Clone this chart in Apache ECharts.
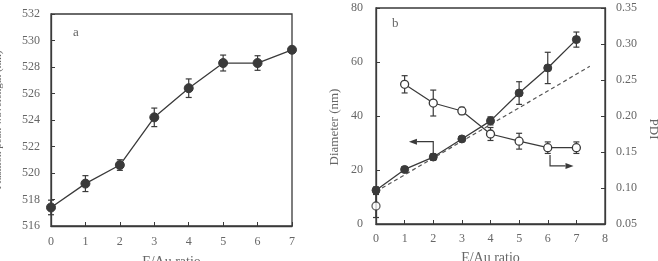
<!DOCTYPE html>
<html>
<head>
<meta charset="utf-8">
<script src="https://cdn.jsdelivr.net/npm/echarts@6/dist/echarts.min.js"></script>
<style>
  html, body { margin: 0; padding: 0; background: #fff; }
  #chart { width: 658px; height: 261px; }
</style>
</head>
<body>
<div id="chart"></div>
<script>
// Panel a: peak wavelength vs E/Au ratio
const ratioA = [0, 1, 2, 3, 4, 5, 6, 7];
const peakNm = [517.4, 519.2, 520.6, 524.2, 526.4, 528.3, 528.3, 529.3];
const peakErr = [0.55, 0.6, 0.4, 0.7, 0.7, 0.6, 0.55, 0.2];

// Panel b: diameter and PDI vs E/Au ratio
const ratioB = [0, 1, 2, 3, 4, 5, 6, 7];
const diameter = [12.5, 20.2, 24.8, 31.5, 38.2, 48.5, 57.8, 68.3];
const diameterErr = [1.2, 1.0, 1.2, 0.8, 1.5, 4.2, 5.8, 2.8];
const pdi = [0.075, 0.244, 0.218, 0.207, 0.175, 0.165, 0.156, 0.156];
const pdiErr = [0.016, 0.012, 0.018, 0.005, 0.009, 0.011, 0.008, 0.008];
const fitLine = [[0, 12], [7.47, 58.4]];
const arrowLeft = [[2.0, 26.3], [2.0, 30.5], [1.15, 30.5]];
const arrowRight = [[6.08, 25.6], [6.08, 21.5], [6.9, 21.5]];

const ink = '#3a3a3a';
const textGray = '#666';
const serif = 'Liberation Serif';

const chart = echarts.init(document.getElementById('chart'));

function pairs(xs, ys) {
    return xs.map((x, i) => [x, ys[i]]);
}
function bars(xs, ys, errs) {
    return xs.map((x, i) => [x, ys[i] - errs[i], ys[i] + errs[i]]);
}

// draws a vertical error bar with caps
function errorBar(params, api) {
    const lo = api.coord([api.value(0), api.value(1)]);
    const hi = api.coord([api.value(0), api.value(2)]);
    const w = 3;
    const style = { stroke: ink, lineWidth: 1.2, fill: 'none' };
    return {
        type: 'group',
        children: [
            { type: 'line', shape: { x1: lo[0], y1: lo[1], x2: hi[0], y2: hi[1] }, style },
            { type: 'line', shape: { x1: lo[0] - w, y1: lo[1], x2: lo[0] + w, y2: lo[1] }, style },
            { type: 'line', shape: { x1: hi[0] - w, y1: hi[1], x2: hi[0] + w, y2: hi[1] }, style }
        ]
    };
}

// arrow polyline: plain segments plus a filled head at the last point
function arrowPath(params, api) {
    const pts = params.context.pts || (params.context.pts = []);
    pts.push(api.coord([api.value(0), api.value(1)]));
    if (params.dataIndex !== params.dataInsideLength - 1) return null;
    const a = pts[pts.length - 2], b = pts[pts.length - 1];
    const ang = Math.atan2(b[1] - a[1], b[0] - a[0]);
    const len = 8, half = 3;
    const bx = b[0] - len * Math.cos(ang), by = b[1] - len * Math.sin(ang);
    const nx = -Math.sin(ang) * half, ny = Math.cos(ang) * half;
    const linePts = pts.slice(0, -1).concat([[bx, by]]);
    return {
        type: 'group',
        children: [
            { type: 'polyline', shape: { points: linePts }, style: { stroke: ink, lineWidth: 1.2, fill: 'none' } },
            { type: 'polygon', shape: { points: [[b[0], b[1]], [bx + nx, by + ny], [bx - nx, by - ny]] }, style: { fill: ink } }
        ]
    };
}

const axisCommon = {
    axisLine: { show: true, lineStyle: { color: ink, width: 1.3 } },
    axisTick: { show: true, inside: true, length: 4, lineStyle: { color: ink } },
    axisLabel: { color: textGray, fontFamily: serif, fontSize: 12 },
    splitLine: { show: false }
};

const option = {
    backgroundColor: '#fff',
    animation: false,
    grid: [
        { left: 51, right: 366, top: 14, bottom: 35, show: true, borderColor: ink, borderWidth: 1.3,
          containLabel: false, outerBoundsMode: 'none' },
        { left: 376, right: 53, top: 8, bottom: 37, show: true, borderColor: ink, borderWidth: 1.3,
          containLabel: false, outerBoundsMode: 'none' }
    ],
    xAxis: [
        Object.assign({}, axisCommon, {
            type: 'value', gridIndex: 0, min: 0, max: 7, interval: 1,
            axisLabel: Object.assign({}, axisCommon.axisLabel, { margin: 10 }),
            name: 'E/Au ratio', nameLocation: 'middle', nameGap: 29,
            nameTextStyle: { color: textGray, fontFamily: serif, fontSize: 14 }
        }),
        Object.assign({}, axisCommon, {
            type: 'value', gridIndex: 1, min: 0, max: 8, interval: 1,
            axisLabel: Object.assign({}, axisCommon.axisLabel, { margin: 9 }),
            name: 'E/Au ratio', nameLocation: 'middle', nameGap: 27,
            nameTextStyle: { color: textGray, fontFamily: serif, fontSize: 14 }
        })
    ],
    yAxis: [
        Object.assign({}, axisCommon, {
            type: 'value', gridIndex: 0, min: 516, max: 532, interval: 2,
            axisLabel: Object.assign({}, axisCommon.axisLabel, { margin: 11 }),
            name: 'Plasmon peak wavelength (nm)', nameLocation: 'middle', nameGap: 47,
            nameTextStyle: { color: textGray, fontFamily: serif, fontSize: 11 }
        }),
        Object.assign({}, axisCommon, {
            type: 'value', gridIndex: 1, min: 0, max: 80, interval: 20,
            axisLabel: Object.assign({}, axisCommon.axisLabel, { margin: 13 })
        }),
        Object.assign({}, axisCommon, {
            type: 'value', gridIndex: 1, position: 'right', min: 0.05, max: 0.35, interval: 0.05,
            axisLabel: Object.assign({}, axisCommon.axisLabel, {
                margin: 11, formatter: v => v.toFixed(2)
            })
        })
    ],
    graphic: [
        { type: 'text', left: 73, top: 26, style: { text: 'a', fill: textGray, font: '13px "Liberation Serif"' } },
        { type: 'text', left: 392, top: 17, style: { text: 'b', fill: textGray, font: '13px "Liberation Serif"' } },
        {
            type: 'text', x: 335, y: 127, rotation: Math.PI / 2,
            style: { text: 'Diameter (nm)', fill: textGray, font: '13px "Liberation Serif"', align: 'center', verticalAlign: 'middle' }
        },
        {
            type: 'text', x: 653, y: 129, rotation: -Math.PI / 2,
            style: { text: 'PDI', fill: textGray, font: '13px "Liberation Serif"', align: 'center', verticalAlign: 'middle' }
        }
    ],
    series: [
        // panel a
        {
            type: 'custom', xAxisIndex: 0, yAxisIndex: 0, z: 3,
            renderItem: errorBar, data: bars(ratioA, peakNm, peakErr)
        },
        {
            type: 'line', xAxisIndex: 0, yAxisIndex: 0, z: 4,
            data: pairs(ratioA, peakNm),
            symbol: 'circle', symbolSize: 9,
            lineStyle: { color: ink, width: 1.3 },
            itemStyle: { color: ink, borderColor: ink }
        },
        // panel b: fitted dashed line
        {
            type: 'line', xAxisIndex: 1, yAxisIndex: 1, z: 2,
            data: fitLine, symbol: 'none',
            lineStyle: { color: '#555', width: 1.2, type: [4, 3] }
        },
        // diameter
        {
            type: 'custom', xAxisIndex: 1, yAxisIndex: 1, z: 3,
            renderItem: errorBar, data: bars(ratioB, diameter, diameterErr)
        },
        {
            type: 'line', xAxisIndex: 1, yAxisIndex: 1, z: 4,
            data: pairs(ratioB, diameter),
            symbol: 'circle', symbolSize: 8,
            lineStyle: { color: ink, width: 1.3 },
            itemStyle: { color: ink, borderColor: ink }
        },
        // PDI: the point at ratio 0 stands alone, the rest are joined
        {
            type: 'custom', xAxisIndex: 1, yAxisIndex: 2, z: 3,
            renderItem: errorBar, data: bars(ratioB, pdi, pdiErr)
        },
        {
            type: 'line', xAxisIndex: 1, yAxisIndex: 2, z: 5,
            data: pairs(ratioB, pdi).slice(1),
            symbol: 'circle', symbolSize: 8,
            lineStyle: { color: ink, width: 1.2 },
            itemStyle: { color: '#fff', borderColor: ink, borderWidth: 1.3 }
        },
        {
            type: 'scatter', xAxisIndex: 1, yAxisIndex: 2, z: 5,
            data: pairs(ratioB, pdi).slice(0, 1),
            symbol: 'circle', symbolSize: 8,
            itemStyle: { color: '#fff', borderColor: ink, borderWidth: 1.3 }
        },
        // arrows pointing to each series' axis
        {
            type: 'custom', xAxisIndex: 1, yAxisIndex: 1, z: 3,
            renderItem: arrowPath, data: arrowLeft
        },
        {
            type: 'custom', xAxisIndex: 1, yAxisIndex: 1, z: 3,
            renderItem: arrowPath, data: arrowRight
        }
    ]
};

chart.setOption(option);
</script>
</body>
</html>
